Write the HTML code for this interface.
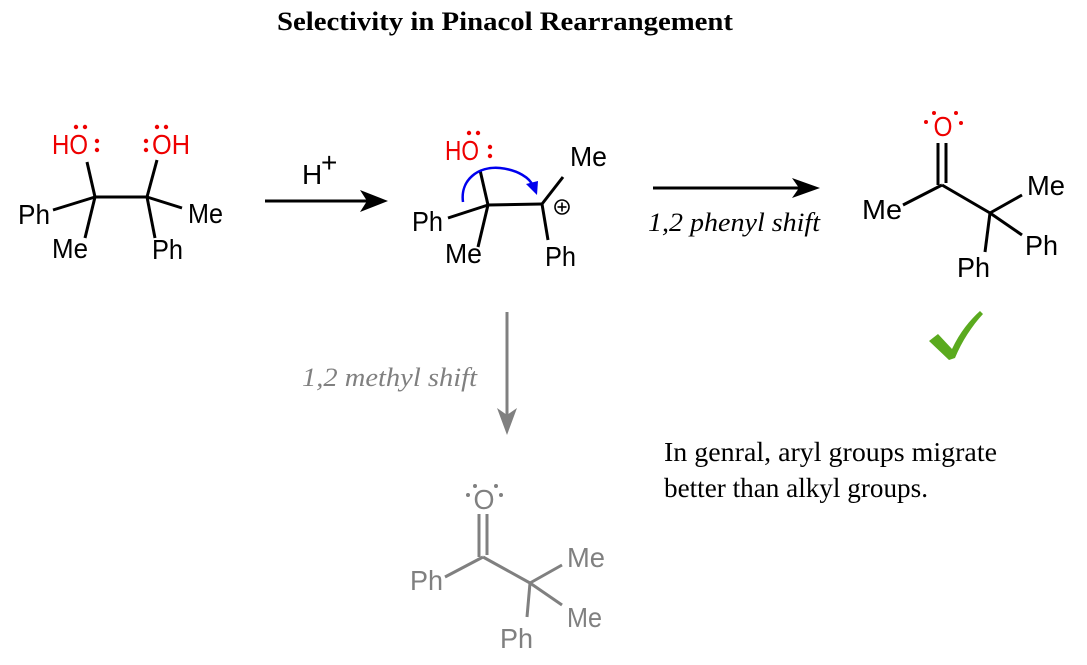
<!DOCTYPE html>
<html><head><style>
html,body{margin:0;padding:0;background:#fff;width:1087px;height:665px;overflow:hidden}
svg{display:block}
.s{font-family:"Liberation Sans",sans-serif;font-size:28px}
.r{font-family:"Liberation Serif",serif}
</style></head><body>
<svg width="1087" height="665" viewBox="0 0 1087 665">
<text x="277" y="30" textLength="456" lengthAdjust="spacingAndGlyphs" class="r" font-weight="bold" font-size="26">Selectivity in Pinacol Rearrangement</text>

<!-- Structure 1 -->
<g stroke="#000" stroke-width="3" fill="none">
<line x1="95" y1="197" x2="147" y2="197"/>
<line x1="95" y1="197" x2="87" y2="162"/>
<line x1="147" y1="197" x2="157" y2="160"/>
<line x1="95" y1="197" x2="53" y2="210"/>
<line x1="95" y1="197" x2="85" y2="238"/>
<line x1="147" y1="197" x2="182" y2="208"/>
<line x1="147" y1="197" x2="155" y2="238"/>
</g>
<g class="s" fill="#000">
<text x="18" y="224" textLength="32" lengthAdjust="spacingAndGlyphs">Ph</text>
<text x="52" y="258" textLength="36" lengthAdjust="spacingAndGlyphs">Me</text>
<text x="188" y="223" textLength="35" lengthAdjust="spacingAndGlyphs">Me</text>
<text x="152" y="259" textLength="31" lengthAdjust="spacingAndGlyphs">Ph</text>
</g>
<g class="s" fill="#e00">
<text x="52" y="154" textLength="36" lengthAdjust="spacingAndGlyphs">HO</text>
<text x="152" y="154" textLength="38" lengthAdjust="spacingAndGlyphs">OH</text>
</g>
<g fill="#e00">
<circle cx="76" cy="127" r="2.2"/><circle cx="85" cy="127" r="2.2"/>
<circle cx="97" cy="141" r="2.2"/><circle cx="97" cy="150" r="2.2"/>
<circle cx="157" cy="127" r="2.2"/><circle cx="166" cy="127" r="2.2"/>
<circle cx="146" cy="141" r="2.2"/><circle cx="146" cy="150" r="2.2"/>
</g>

<!-- Arrow 1 -->
<line x1="265" y1="201" x2="380" y2="201" stroke="#000" stroke-width="3"/>
<path d="M388,201 L360,190 L367,201 L360,212z" fill="#000"/>
<text x="302" y="184" class="s" font-size="26">H</text><text x="321" y="172" class="s" font-size="16">+</text>

<!-- Structure 2 -->
<g stroke="#000" stroke-width="3" fill="none">
<line x1="488" y1="205" x2="542" y2="204"/>
<line x1="488" y1="205" x2="480" y2="170"/>
<line x1="488" y1="205" x2="448" y2="218"/>
<line x1="488" y1="205" x2="478" y2="247"/>
<line x1="542" y1="204" x2="563" y2="177"/>
<line x1="542" y1="204" x2="548" y2="240"/>
</g>
<circle cx="562" cy="207" r="7" stroke="#000" stroke-width="1.6" fill="none"/>
<line x1="557.5" y1="207" x2="566.5" y2="207" stroke="#000" stroke-width="1.6"/>
<line x1="562" y1="202.5" x2="562" y2="211.5" stroke="#000" stroke-width="1.6"/>
<g class="s" fill="#000">
<text x="412" y="231" textLength="31" lengthAdjust="spacingAndGlyphs">Ph</text>
<text x="445" y="263" textLength="37" lengthAdjust="spacingAndGlyphs">Me</text>
<text x="570" y="166" textLength="37" lengthAdjust="spacingAndGlyphs">Me</text>
<text x="545" y="266" textLength="31" lengthAdjust="spacingAndGlyphs">Ph</text>
</g>
<text x="445" y="160" class="s" fill="#e00" textLength="34" lengthAdjust="spacingAndGlyphs">HO</text>
<g fill="#e00">
<circle cx="469" cy="133" r="2.2"/><circle cx="478" cy="133" r="2.2"/>
<circle cx="490" cy="147" r="2.2"/><circle cx="490" cy="156" r="2.2"/>
</g>
<path d="M463,202 C460,180 478,166 500,168 C518,170 530,178 533,186" stroke="#0000ee" stroke-width="2.5" fill="none"/>
<path d="M537,195 L526,184 L538,181z" fill="#0000ee"/>

<!-- Arrow 2 -->
<line x1="653" y1="188" x2="812" y2="188" stroke="#000" stroke-width="3"/>
<path d="M820,188 L792,178 L799,188 L792,198z" fill="#000"/>
<text x="648" y="231" textLength="172" lengthAdjust="spacingAndGlyphs" class="r" font-style="italic" font-size="26">1,2 phenyl shift</text>

<!-- Structure 3 -->
<g stroke="#000" stroke-width="3" fill="none">
<line x1="938" y1="143" x2="938" y2="185"/>
<line x1="946" y1="143" x2="946" y2="183"/>
<line x1="942" y1="185" x2="903" y2="205"/>
<line x1="942" y1="185" x2="990" y2="213"/>
<line x1="990" y1="213" x2="1022" y2="195"/>
<line x1="990" y1="213" x2="1022" y2="235"/>
<line x1="990" y1="213" x2="985" y2="252"/>
</g>
<g class="s" fill="#000">
<text x="862" y="219" textLength="40" lengthAdjust="spacingAndGlyphs">Me</text>
<text x="1027" y="195" textLength="38" lengthAdjust="spacingAndGlyphs">Me</text>
<text x="1025" y="255" textLength="33" lengthAdjust="spacingAndGlyphs">Ph</text>
<text x="957" y="277" textLength="33" lengthAdjust="spacingAndGlyphs">Ph</text>
</g>
<text x="943" y="136" class="s" fill="#e00" text-anchor="middle" textLength="19" lengthAdjust="spacingAndGlyphs">O</text>
<g fill="#e00"><circle cx="926" cy="122" r="2"/><circle cx="934" cy="113" r="2"/><circle cx="956" cy="113" r="2"/><circle cx="961" cy="123" r="2"/></g>
<path d="M929,341 L938,334 L952,349 C960,332 970,320 980,311 L983,314 C972,326 962,341 955,358 L949,360z" fill="#5aaa1e"/>

<!-- Vertical arrow -->
<line x1="507" y1="312" x2="507" y2="428" stroke="#808080" stroke-width="3"/>
<path d="M507,435 L497,408 L507,415 L517,408z" fill="#808080"/>
<text x="302" y="386" textLength="175" lengthAdjust="spacingAndGlyphs" class="r" font-style="italic" font-size="26" fill="#808080">1,2 methyl shift</text>

<!-- Structure 4 -->
<g stroke="#808080" stroke-width="3" fill="none">
<line x1="479" y1="514" x2="479" y2="557"/>
<line x1="487" y1="514" x2="487" y2="555"/>
<line x1="483" y1="557" x2="445" y2="577"/>
<line x1="483" y1="557" x2="530" y2="583"/>
<line x1="530" y1="583" x2="562" y2="565"/>
<line x1="530" y1="583" x2="562" y2="605"/>
<line x1="530" y1="583" x2="527" y2="617"/>
</g>
<g class="s" fill="#808080">
<text x="410" y="590" textLength="33" lengthAdjust="spacingAndGlyphs">Ph</text>
<text x="567" y="567" textLength="38" lengthAdjust="spacingAndGlyphs">Me</text>
<text x="567" y="627" textLength="35" lengthAdjust="spacingAndGlyphs">Me</text>
<text x="500" y="648" textLength="33" lengthAdjust="spacingAndGlyphs">Ph</text>
<text x="484" y="509" text-anchor="middle" textLength="21" lengthAdjust="spacingAndGlyphs">O</text>
</g>
<g fill="#808080"><circle cx="468" cy="495" r="2"/><circle cx="475" cy="486" r="2"/><circle cx="496" cy="486" r="2"/><circle cx="501" cy="495" r="2"/></g>

<text x="664" y="461" textLength="333" lengthAdjust="spacingAndGlyphs" class="r" font-size="27">In genral, aryl groups migrate</text>
<text x="664" y="497" textLength="264" lengthAdjust="spacingAndGlyphs" class="r" font-size="27">better than alkyl groups.</text>
</svg>
</body></html>
